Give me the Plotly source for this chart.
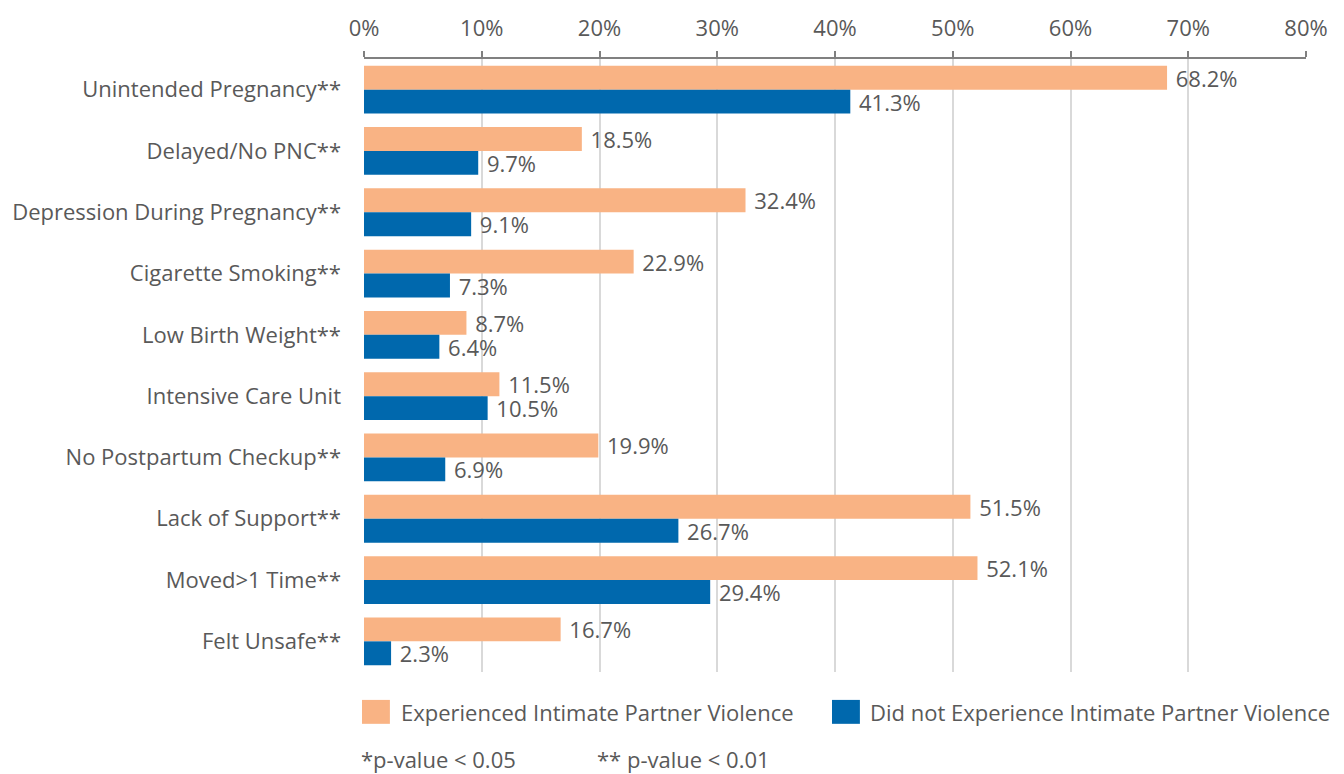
import plotly.graph_objects as go

categories = ["Unintended Pregnancy**", "Delayed/No PNC**", "Depression During Pregnancy**",
              "Cigarette Smoking**", "Low Birth Weight**", "Intensive Care Unit",
              "No Postpartum Checkup**", "Lack of Support**", "Moved>1 Time**", "Felt Unsafe**"]
ipv = [68.2, 18.5, 32.4, 22.9, 8.7, 11.5, 19.9, 51.5, 52.1, 16.7]
no_ipv = [41.3, 9.7, 9.1, 7.3, 6.4, 10.5, 6.9, 26.7, 29.4, 2.3]
series_names = ["Experienced Intimate Partner Violence", "Did not Experience Intimate Partner Violence"]
tick_vals = [0, 10, 20, 30, 40, 50, 60, 70, 80]
footnotes = ["*p-value < 0.05", "** p-value < 0.01"]

ORANGE = "#F9B384"
BLUE = "#0068AD"
TXT = "#595959"
FONT = "Open Sans"
FS = 22

W, H = 1344, 774
L, R, T, B = 360, 38, 57, 102
pw, ph = W - L - R, H - T - B

fig = go.Figure()
for name, vals, col in [(series_names[0], ipv, ORANGE), (series_names[1], no_ipv, BLUE)]:
    fig.add_trace(go.Bar(
        y=categories, x=vals, name=name, orientation="h",
        marker=dict(color=col, line=dict(width=0)),
        text=[f" {v:.1f}%" for v in vals], textposition="outside",
        textfont=dict(color=TXT, size=FS, family=FONT),
        constraintext="none",
        cliponaxis=False, showlegend=False,
    ))

def px_x(px):
    return (px - L) / pw

def px_y(py):
    return (H - B - py) / ph

shapes = []
annotations = []
for (sx, name, col, tx) in [(358, series_names[0], ORANGE, 395), (830, series_names[1], BLUE, 866)]:
    shapes.append(dict(type="rect", xref="paper", yref="paper",
                       x0=px_x(sx), x1=px_x(sx + 28), y0=px_y(724), y1=px_y(700),
                       fillcolor=col, line=dict(width=0)))
    annotations.append(dict(xref="paper", yref="paper", x=px_x(tx), y=px_y(712),
                            text=name, showarrow=False, xanchor="left", yanchor="middle",
                            font=dict(size=FS, color=TXT, family=FONT)))
for fx, ft in zip([355, 592], footnotes):
    annotations.append(dict(xref="paper", yref="paper", x=px_x(fx), y=px_y(759),
                            text=ft, showarrow=False, xanchor="left", yanchor="middle",
                            font=dict(size=FS, color=TXT, family=FONT)))

fig.update_layout(
    width=W, height=H,
    margin=dict(l=L, r=R, t=T, b=B),
    paper_bgcolor="white", plot_bgcolor="white",
    barmode="group", bargap=0.22, bargroupgap=0,
    font=dict(family=FONT, color=TXT, size=FS),
    shapes=shapes, annotations=annotations,
    xaxis=dict(side="top", range=[0, 80], tickvals=tick_vals,
               ticktext=[f"{v}%" for v in tick_vals],
               showline=True, linecolor="#808080", linewidth=1.5,
               ticks="outside", ticklen=6, tickcolor="#808080", tickwidth=1.5,
               showgrid=True, gridcolor="#D9D9D9", gridwidth=1.5, zeroline=False,
               tickfont=dict(size=FS, color=TXT, family=FONT), ticklabelstandoff=6),
    yaxis=dict(autorange="reversed", showline=False, ticks="", showgrid=False,
               tickfont=dict(size=FS, color=TXT, family=FONT), ticklabelstandoff=22),
)

fig.write_html("out.html", config={"displayModeBar": False},
               post_script="document.body.style.margin='0';document.body.style.padding='0';document.body.style.overflow='hidden';")
